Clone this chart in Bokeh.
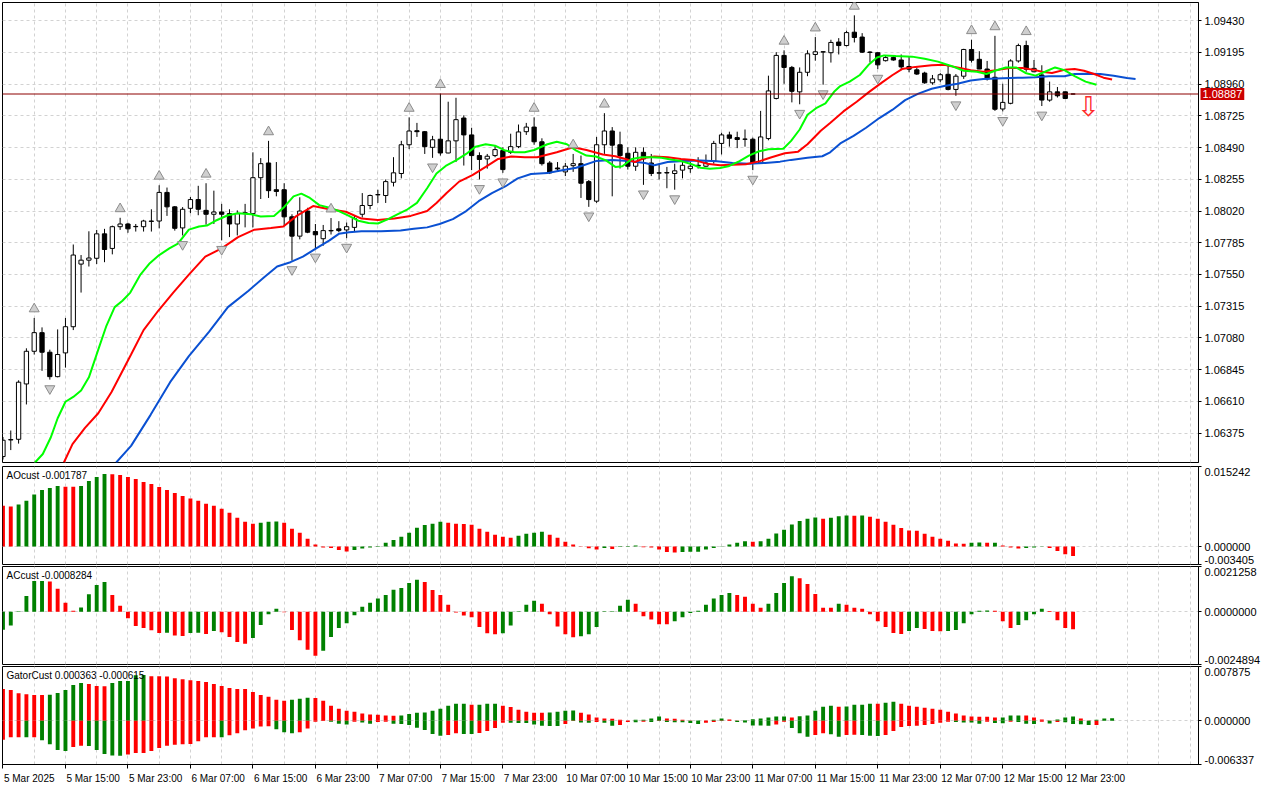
from bokeh.plotting import figure
from bokeh.layouts import column
from bokeh.models import Range1d, FixedTicker, PrintfTickFormatter, Span, Label
from bokeh.core.properties import value
from bokeh.embed import file_html
from bokeh.resources import INLINE

# ---------------- data (EURUSD H1) ----------------
open_ = [1.06201, 1.06324, 1.06329, 1.06739, 1.06981, 1.07119, 1.06974, 1.06793, 1.06969, 1.07163,
         1.07627, 1.07656, 1.07670, 1.07851, 1.07743, 1.07904, 1.07924, 1.07904, 1.07904, 1.07943,
         1.07946, 1.08158, 1.08051, 1.07895, 1.08040, 1.08105, 1.08025, 1.07996, 1.08013, 1.08001,
         1.07924, 1.08001, 1.08001, 1.08267, 1.08376, 1.08178, 1.08178, 1.07977, 1.07834, 1.08020,
         1.07868, 1.07815, 1.07873, 1.07888, 1.07880, 1.07899, 1.07996, 1.08061, 1.08140, 1.08135,
         1.08233, 1.08298, 1.08511, 1.08615, 1.08608, 1.08492, 1.08552, 1.08450, 1.08540, 1.08709,
         1.08584, 1.08431, 1.08406, 1.08431, 1.08468, 1.08455, 1.08497, 1.08608, 1.08642, 1.08533,
         1.08376, 1.08339, 1.08310, 1.08356, 1.08371, 1.08238, 1.08093, 1.08511, 1.08613, 1.08511,
         1.08448, 1.08352, 1.08455, 1.08376, 1.08303, 1.08305, 1.08298, 1.08323, 1.08334, 1.08359,
         1.08352, 1.08390, 1.08521, 1.08584, 1.08564, 1.08553, 1.08552, 1.08376, 1.08557, 1.08854,
         1.09173, 1.09084, 1.08903, 1.09048, 1.09180, 1.09200, 1.09193, 1.09272, 1.09246, 1.09345,
         1.09309, 1.09198, 1.09193, 1.09134, 1.09157, 1.09139, 1.09091, 1.09066, 1.09042, 1.08970,
         1.08992, 1.09033, 1.08921, 1.09019, 1.09217, 1.09144, 1.09072, 1.09011, 1.08776, 1.08818,
         1.09132, 1.09246, 1.09052, 1.09028, 1.08842, 1.08903, 1.08903, 1.08887]
high_ = [1.06346, 1.06394, 1.06766, 1.07003, 1.07228, 1.07158, 1.06993, 1.07143, 1.07228, 1.07772,
         1.07694, 1.07870, 1.07880, 1.07888, 1.07912, 1.07970, 1.07933, 1.07924, 1.07955, 1.08033,
         1.08211, 1.08194, 1.08057, 1.08049, 1.08124, 1.08207, 1.08226, 1.08171, 1.08073, 1.08033,
         1.08025, 1.08073, 1.08455, 1.08412, 1.08540, 1.08383, 1.08226, 1.07996, 1.08122, 1.08044,
         1.07924, 1.07917, 1.07968, 1.07945, 1.07935, 1.07989, 1.08153, 1.08142, 1.08178, 1.08254,
         1.08419, 1.08540, 1.08714, 1.08673, 1.08613, 1.08577, 1.08890, 1.08830, 1.08859, 1.08729,
         1.08637, 1.08455, 1.08443, 1.08504, 1.08492, 1.08593, 1.08661, 1.08673, 1.08714, 1.08559,
         1.08390, 1.08383, 1.08376, 1.08443, 1.08431, 1.08250, 1.08569, 1.08745, 1.08642, 1.08608,
         1.08492, 1.08492, 1.08492, 1.08443, 1.08371, 1.08347, 1.08371, 1.08395, 1.08383, 1.08419,
         1.08439, 1.08540, 1.08600, 1.08608, 1.08608, 1.08624, 1.08564, 1.08762, 1.09023, 1.09197,
         1.09211, 1.09095, 1.09084, 1.09211, 1.09309, 1.09204, 1.09289, 1.09301, 1.09356, 1.09470,
         1.09338, 1.09204, 1.09197, 1.09175, 1.09168, 1.09180, 1.09165, 1.09084, 1.09052, 1.09028,
         1.09042, 1.09108, 1.09035, 1.09222, 1.09289, 1.09204, 1.09132, 1.09318, 1.08963, 1.09144,
         1.09260, 1.09282, 1.09139, 1.09100, 1.08979, 1.08939, 1.08906, 1.08889]
low_ = [1.06179, 1.06249, 1.06297, 1.06587, 1.06957, 1.06836, 1.06771, 1.06788, 1.06860, 1.07138,
        1.07416, 1.07609, 1.07627, 1.07641, 1.07699, 1.07880, 1.07859, 1.07868, 1.07868, 1.07868,
        1.07892, 1.07984, 1.07875, 1.07839, 1.08004, 1.07989, 1.07919, 1.07924, 1.07803, 1.07827,
        1.07839, 1.07899, 1.07899, 1.08109, 1.08117, 1.08129, 1.07912, 1.07653, 1.07810, 1.07856,
        1.07746, 1.07763, 1.07846, 1.07863, 1.07819, 1.07868, 1.07972, 1.08033, 1.08080, 1.08080,
        1.08202, 1.08262, 1.08479, 1.08569, 1.08443, 1.08414, 1.08431, 1.08448, 1.08383, 1.08357,
        1.08323, 1.08254, 1.08334, 1.08419, 1.08303, 1.08443, 1.08486, 1.08584, 1.08511, 1.08357,
        1.08294, 1.08310, 1.08279, 1.08310, 1.08117, 1.08051, 1.08080, 1.08443, 1.08129, 1.08335,
        1.08327, 1.08318, 1.08214, 1.08279, 1.08254, 1.08189, 1.08178, 1.08262, 1.08303, 1.08334,
        1.08347, 1.08371, 1.08439, 1.08497, 1.08486, 1.08497, 1.08323, 1.08371, 1.08544, 1.08847,
        1.08963, 1.08825, 1.08811, 1.09019, 1.09134, 1.08956, 1.09120, 1.09180, 1.09240, 1.09269,
        1.09191, 1.09120, 1.09071, 1.09128, 1.09134, 1.09064, 1.09048, 1.09028, 1.08963, 1.08956,
        1.08975, 1.08914, 1.08874, 1.08999, 1.09120, 1.09071, 1.08987, 1.08762, 1.08758, 1.08811,
        1.09120, 1.09052, 1.09048, 1.08798, 1.08830, 1.08861, 1.08849, 1.08885]
close_ = [1.06322, 1.06327, 1.06752, 1.06981, 1.07119, 1.06974, 1.06793, 1.06957, 1.07163, 1.07694,
          1.07656, 1.07672, 1.07851, 1.07735, 1.07904, 1.07924, 1.07888, 1.07906, 1.07946, 1.07946,
          1.08158, 1.08051, 1.07892, 1.08033, 1.08105, 1.08033, 1.07996, 1.08013, 1.07996, 1.07924,
          1.08001, 1.08008, 1.08267, 1.08371, 1.08171, 1.08165, 1.07977, 1.07834, 1.08020, 1.07863,
          1.07844, 1.07875, 1.07876, 1.07875, 1.07904, 1.07965, 1.08061, 1.08135, 1.08142, 1.08238,
          1.08303, 1.08511, 1.08613, 1.08608, 1.08497, 1.08548, 1.08450, 1.08540, 1.08697, 1.08584,
          1.08431, 1.08402, 1.08426, 1.08475, 1.08327, 1.08497, 1.08606, 1.08642, 1.08533, 1.08371,
          1.08303, 1.08332, 1.08352, 1.08371, 1.08226, 1.08105, 1.08511, 1.08613, 1.08508, 1.08431,
          1.08352, 1.08455, 1.08406, 1.08298, 1.08301, 1.08302, 1.08318, 1.08359, 1.08352, 1.08354,
          1.08376, 1.08521, 1.08584, 1.08559, 1.08550, 1.08552, 1.08376, 1.08569, 1.08910, 1.09173,
          1.09084, 1.08907, 1.09048, 1.09185, 1.09200, 1.09198, 1.09269, 1.09246, 1.09342, 1.09306,
          1.09197, 1.09195, 1.09103, 1.09157, 1.09139, 1.09088, 1.09071, 1.09035, 1.08970, 1.08999,
          1.09030, 1.08921, 1.09019, 1.09217, 1.09137, 1.09072, 1.08999, 1.08774, 1.08825, 1.09132,
          1.09246, 1.09071, 1.09077, 1.08842, 1.08903, 1.08874, 1.08854, 1.08887]

bid_price = 1.08887
fractal_up = [4, 15, 20, 26, 34, 42, 52, 56, 68, 73, 77, 100, 104, 109, 124, 127, 131]
fractal_down = [6, 23, 28, 37, 40, 44, 55, 61, 64, 75, 82, 86, 96, 102, 105, 112, 122, 128, 133]
signal_bar = [139]
signal_price = [1.08796]

# Alligator (lines already shifted forward: jaw 8, teeth 5, lips 3 bars)
jaw_x = [14.5, 16.4, 18.9, 21.4, 23.8, 26.4, 28.8, 31.4, 33.4, 35.1, 36.8, 38.4, 40.1, 41.8, 43, 44.3, 45.9,
         48.4, 50.9, 52.6, 54.3, 55.9, 57.6, 59.3, 60.9, 62.6, 64.3, 65.9, 67.6, 69.7, 70.9, 73.4, 75.9, 78,
         80.1, 82.2, 83.4, 85.1, 87.2, 89.3, 91.4, 93.4, 95.5, 97.6, 99.5, 100.9, 103, 104.9, 105.9, 107.2,
         108.9, 110.5, 112.2, 113.9, 115.5, 117.2, 118.9, 120.5, 122.2, 123.9, 125.5, 128, 130.5, 132.2,
         133.9, 135.9, 137.2, 138.9, 140.5, 142.2, 143.9, 145]
jaw_y = [1.06157, 1.06280, 1.06510, 1.06752, 1.06945, 1.07126, 1.07308, 1.07428, 1.07527, 1.07609,
         1.07641, 1.07682, 1.07743, 1.07803, 1.07851, 1.07863, 1.07870, 1.07870, 1.07875, 1.07888,
         1.07899, 1.07924, 1.07960, 1.08020, 1.08093, 1.08153, 1.08202, 1.08262, 1.08294, 1.08301,
         1.08315, 1.08341, 1.08390, 1.08399, 1.08390, 1.08376, 1.08359, 1.08383, 1.08390, 1.08395,
         1.08388, 1.08376, 1.08371, 1.08376, 1.08386, 1.08399, 1.08414, 1.08426, 1.08455, 1.08521,
         1.08577, 1.08637, 1.08709, 1.08771, 1.08842, 1.08890, 1.08926, 1.08946, 1.08963, 1.08987,
         1.08999, 1.09004, 1.09008, 1.09011, 1.09019, 1.09019, 1.09035, 1.09037, 1.09035, 1.09023,
         1.09006, 1.08999]
teeth_x = [7.8, 8.9, 10.5, 12.2, 13.9, 16.4, 18, 19.9, 21.8, 23.8, 25.9, 28, 30.1, 32.2, 34.3, 35.9, 37.6,
           39.7, 41.8, 43.9, 45.9, 48, 50.1, 52.2, 54.3, 55.5, 56.8, 58.4, 60.1, 61.8, 63.4, 65.1, 66.8,
           68.4, 70.9, 73, 74.7, 76.8, 78.4, 79.7, 80.9, 82.2, 83.4, 85.1, 86.8, 88.4, 90.1, 91.8, 93.4,
           95.1, 96.8, 98.4, 100.1, 101.8, 103, 104.7, 105.9, 107.6, 109.3, 110.9, 112.6, 113.9, 115.1,
           116.8, 118.9, 120.5, 122.2, 123.9, 125.5, 127.2, 128.9, 130.5, 132.2, 133, 134.3, 135.9, 137.2,
           138.4, 139.7, 140.9, 142]
teeth_y = [1.06157, 1.06293, 1.06413, 1.06522, 1.06679, 1.06957, 1.07138, 1.07283, 1.07416, 1.07549,
           1.07682, 1.07743, 1.07827, 1.07882, 1.07895, 1.07906, 1.07984, 1.08057, 1.08033, 1.08015,
           1.07964, 1.07953, 1.07964, 1.07984, 1.08020, 1.08080, 1.08153, 1.08238, 1.08286, 1.08347,
           1.08406, 1.08424, 1.08419, 1.08419, 1.08455, 1.08492, 1.08472, 1.08439, 1.08426, 1.08406,
           1.08383, 1.08414, 1.08424, 1.08419, 1.08406, 1.08399, 1.08371, 1.08359, 1.08363, 1.08366,
           1.08388, 1.08419, 1.08448, 1.08460, 1.08515, 1.08615, 1.08673, 1.08758, 1.08830, 1.08903,
           1.08975, 1.09028, 1.09072, 1.09088, 1.09100, 1.09103, 1.09084, 1.09064, 1.09052, 1.09064,
           1.09079, 1.09079, 1.09064, 1.09052, 1.09043, 1.09066, 1.09072, 1.09059, 1.09035, 1.09008,
           1.08994]
lips_x = [4.1, 5.1, 6.1, 7, 8, 9, 10, 11, 12.2, 13.2, 14.3, 15.3, 16.3, 17.6, 18.8, 20, 21.3, 22.4, 23.8,
          25.1, 26.1, 27.2, 28.8, 30.1, 31.8, 33, 34.7, 35.9, 37.2, 38.2, 39.3, 40.5, 41.8, 43, 44.3, 45.5,
          46.8, 48, 49.3, 50.5, 51.8, 53, 54.3, 55.5, 56.8, 58, 59.3, 60.5, 61.8, 63, 64.3, 65.5, 66.8, 68,
          69.7, 70.9, 72.2, 73.4, 74.7, 75.9, 77.2, 78.4, 79.3, 80.5, 81.8, 83, 84.3, 85.5, 86.8, 88, 89.3,
          90.5, 91.8, 93, 94.3, 95.5, 96.8, 98, 99.9, 100.9, 102, 103, 104.1, 105.3, 106.4, 107.2, 108.4,
          109.7, 110.9, 111.9, 112.8, 114.3, 116.4, 118, 119.7, 121.4, 123, 124.7, 125.9, 127, 128.4,
          129.7, 130.9, 132.2, 133.4, 134.7, 135.9, 137.2, 138.6, 140]
lips_y = [1.06157, 1.06220, 1.06340, 1.06485, 1.06607, 1.06643, 1.06691, 1.06788, 1.06993, 1.07163,
          1.07308, 1.07355, 1.07416, 1.07549, 1.07634, 1.07694, 1.07743, 1.07779, 1.07882, 1.07906,
          1.07912, 1.07948, 1.07989, 1.08004, 1.07996, 1.07979, 1.07984, 1.08044, 1.08129, 1.08149,
          1.08117, 1.08064, 1.08044, 1.08020, 1.07984, 1.07948, 1.07931, 1.07928, 1.07960, 1.07996,
          1.08033, 1.08080, 1.08189, 1.08298, 1.08359, 1.08395, 1.08443, 1.08497, 1.08515, 1.08504,
          1.08468, 1.08455, 1.08455, 1.08472, 1.08515, 1.08533, 1.08515, 1.08468, 1.08431, 1.08424,
          1.08395, 1.08347, 1.08352, 1.08406, 1.08419, 1.08419, 1.08414, 1.08402, 1.08390, 1.08371,
          1.08341, 1.08334, 1.08339, 1.08354, 1.08390, 1.08431, 1.08463, 1.08477, 1.08481, 1.08540,
          1.08624, 1.08733, 1.08782, 1.08818, 1.08903, 1.08946, 1.08979, 1.09028, 1.09108, 1.09157,
          1.09173, 1.09168, 1.09164, 1.09149, 1.09127, 1.09095, 1.09059, 1.09052, 1.09035, 1.09059,
          1.09084, 1.09084, 1.09043, 1.09023, 1.09052, 1.09084, 1.09064, 1.09019, 1.08979, 1.08956]

# Awesome Oscillator
ao = [0.007757, 0.007625, 0.008003, 0.008703, 0.009895, 0.010784, 0.011163, 0.011541, 0.011409, 0.011390,
      0.011541, 0.012487, 0.013244, 0.013812, 0.013774, 0.013622, 0.013244, 0.012866, 0.012298, 0.011920,
      0.011352, 0.010784, 0.010217, 0.009649, 0.009138, 0.008703, 0.008136, 0.007757, 0.007190, 0.006433,
      0.005487, 0.004730, 0.004352, 0.004541, 0.004730, 0.004768, 0.004541, 0.003406, 0.002649, 0.001514,
      0.000378, -0.000189, -0.000246, -0.000624, -0.000946, -0.000624, -0.000378, -0.000189, -0.000057, 0.000757,
      0.001268, 0.001892, 0.002649, 0.003595, 0.004106, 0.004352, 0.004730, 0.004541, 0.004352, 0.004314,
      0.004162, 0.003406, 0.002838, 0.002270, 0.001892, 0.001703, 0.002081, 0.002460, 0.002649, 0.002838,
      0.002270, 0.001703, 0.000946, 0.000378, 0.000057, -0.000322, -0.000568, -0.000246, -0.000435, -0.000057,
      0.000132, 0.000189, -0.000132, -0.000189, -0.000568, -0.001003, -0.001135, -0.001003, -0.000984, -0.000965,
      -0.000568, -0.000246, 0.000057, 0.000378, 0.000757, 0.001003, 0.000946, 0.001041, 0.001514, 0.002516,
      0.003216, 0.004219, 0.004862, 0.005298, 0.005544, 0.005298, 0.005487, 0.005771, 0.005922, 0.005884,
      0.005922, 0.005676, 0.005298, 0.004730, 0.004162, 0.003538, 0.003084, 0.003027, 0.002460, 0.001892,
      0.001514, 0.001135, 0.000568, 0.000530, 0.000757, 0.000776, 0.000738, 0.000757, 0.000189, -0.000189,
      -0.000378, -0.000246, -0.000189, -0.000038, -0.000246, -0.000814, -0.001457, -0.001787]
ao_colors = ("rrggggggrr" "ggggrrrrrr" "rrrrrrrrrr" "rrrgggrrrr" "rrrrrggggg" "gggggggrrr" "rrrrrrgggg"
             "rrrrrrrgrg" "ggrrrrrggg" "ggggggrggg" "gggggrgggr" "grrrrrrrrr" "rrrrggrgrr" "rgggrrrr")

# Accelerator Oscillator
ac = [-0.000849, -0.000649, 0.000014, 0.000742, 0.001438, 0.001447, 0.001424, 0.001081, 0.000417, 0.000046,
      0.000199, 0.000821, 0.001252, 0.001391, 0.000788, 0.000278, -0.000311, -0.000682, -0.000775, -0.000881,
      -0.001006, -0.000997, -0.001127, -0.001146, -0.001006, -0.000997, -0.001053, -0.000914, -0.000974, -0.001192,
      -0.001424, -0.001517, -0.001238, -0.000635, -0.000125, 0.000139, -0.000023, -0.000867, -0.001345, -0.001795,
      -0.002073, -0.001841, -0.001192, -0.000775, -0.000543, -0.000172, 0.000232, 0.000417, 0.000617, 0.000788,
      0.001034, 0.001113, 0.001345, 0.001498, 0.001391, 0.001020, 0.000788, 0.000325, -0.000046, -0.000186,
      -0.000264, -0.000728, -0.001020, -0.001067, -0.001020, -0.000649, 0.000014, 0.000325, 0.000510, 0.000371,
      -0.000125, -0.000696, -0.001067, -0.001206, -0.001160, -0.001067, -0.000728, 0.000014, 0.000019, 0.000278,
      0.000557, 0.000371, -0.000218, -0.000371, -0.000589, -0.000594, -0.000450, -0.000264, -0.000060, 0.000046,
      0.000325, 0.000617, 0.000788, 0.000881, 0.000788, 0.000696, 0.000371, 0.000186, 0.000371, 0.000881,
      0.001345, 0.001670, 0.001577, 0.001299, 0.000835, 0.000186, 0.000181, 0.000371, 0.000325, 0.000186,
      0.000139, -0.000125, -0.000450, -0.000728, -0.001006, -0.001053, -0.000914, -0.000775, -0.000821, -0.000914,
      -0.000918, -0.000909, -0.000867, -0.000543, -0.000125, 0.000046, 0.000051, 0.000037, -0.000450, -0.000775,
      -0.000635, -0.000404, -0.000125, 0.000139, 0.000032, -0.000404, -0.000775, -0.0008284]
ac_colors = ("ggggggrrrr" "ggggrrrrrr" "rgrrggrgrr" "rrggggrrrr" "rggggggggg" "ggggrrrrrr" "rrrrgggggr"
             "rrrrgggggg" "grrrrrgggg" "ggggrrrrgg" "ggrrrrrgrr" "rrrrrrggrr" "rggggggrrr" "ggggrrrr")

# Gator Oscillator (upper = |jaw-teeth|, lower = |teeth-lips|)
gator_up = [0.004613, 0.004471, 0.003999, 0.003856, 0.003756, 0.003742, 0.003771, 0.004042, 0.004471, 0.005185,
            0.005470, 0.005328, 0.005042, 0.005028, 0.005470, 0.005756, 0.005770, 0.006613, 0.006627, 0.006470,
            0.006456, 0.006442, 0.006185, 0.006042, 0.005899, 0.005756, 0.005613, 0.005328, 0.005042, 0.004756,
            0.004613, 0.004599, 0.004185, 0.003756, 0.003471, 0.003042, 0.002899, 0.003042, 0.003185, 0.003328,
            0.003314, 0.002899, 0.002185, 0.001757, 0.001471, 0.001328, 0.001043, 0.000900, 0.000886, 0.000757,
            0.000743, 0.000757, 0.001000, 0.001185, 0.001193, 0.001471, 0.001757, 0.002185, 0.002471, 0.002485,
            0.002328, 0.002342, 0.002471, 0.002485, 0.002185, 0.002000, 0.001614, 0.001328, 0.001185, 0.001171,
            0.001200, 0.001328, 0.001471, 0.001485, 0.001185, 0.000900, 0.000471, 0.000329, 0.000314, 0.000143,
            0.000043, 0.000143, 0.000157, 0.000329, 0.000614, 0.000329, 0.000314, 0.000143, 0.000029, 0.000043,
            0.000029, 0.000143, 0.000329, 0.000186, 0.000043, 0.000071, 0.000243, 0.000329, 0.000471, 0.000614,
            0.000628, 0.000471, 0.000643, 0.000757, 0.001471, 0.002042, 0.002185, 0.002042, 0.002057, 0.002328,
            0.002342, 0.002471, 0.002457, 0.002614, 0.002757, 0.002471, 0.002185, 0.002042, 0.001900, 0.001757,
            0.001614, 0.001328, 0.001043, 0.000757, 0.000614, 0.000600, 0.000586, 0.000471, 0.000486, 0.000757,
            0.000771, 0.000757, 0.000471, 0.000186, 0.000029, 0.000186, 0.000471, 0.000614, 0.000329, 0.000043,
            0.000143, 0.000329, 0.000363]
gator_up_colors = ("rrrrrrgggg" "grrrgggggr" "rrrrrrrrrr" "rrrrrrrggg" "rrrrrrrrrr" "rggggggggg" "rgggrrrrrr"
                   "ggggrrrrrr" "rggggrrrrg" "rggrrggggg" "grgggggrgg" "ggrggrrrrr" "rrrrrrrrgg" "grrrrgggrr"
                   "ggg")
gator_dn = [0.002757, 0.002385, 0.002371, 0.002385, 0.002371, 0.002814, 0.003385, 0.004242, 0.004385, 0.003814,
            0.003614, 0.003642, 0.004242, 0.004813, 0.005042, 0.005056, 0.004899, 0.004671, 0.004656, 0.004385,
            0.003956, 0.003614, 0.003471, 0.003385, 0.003371, 0.002957, 0.002385, 0.002371, 0.002385, 0.002100,
            0.001814, 0.001385, 0.001100, 0.000814, 0.000800, 0.001243, 0.001671, 0.001814, 0.001671, 0.001100,
            0.000143, 0.000043, 0.000143, 0.000428, 0.000528, 0.000143, 0.000243, 0.000428, 0.000186, 0.000143,
            0.000428, 0.000471, 0.000614, 0.001000, 0.001328, 0.001900, 0.002185, 0.002042, 0.001814, 0.001900,
            0.001914, 0.001757, 0.001471, 0.001043, 0.000286, 0.000300, 0.000314, 0.000329, 0.000528, 0.000714,
            0.000757, 0.000771, 0.000471, 0.000043, 0.000243, 0.000286, 0.000186, 0.000286, 0.000714, 0.000614,
            0.000186, 0.000200, 0.000143, 0.000186, 0.000043, 0.000186, 0.000200, 0.000214, 0.000329, 0.000471,
            0.000286, 0.000186, 0.000043, 0.000029, 0.000186, 0.000243, 0.000671, 0.000686, 0.000700, 0.000528,
            0.000143, 0.001043, 0.001814, 0.002328, 0.002042, 0.001814, 0.001957, 0.002328, 0.002042, 0.002028,
            0.002042, 0.002185, 0.002200, 0.002042, 0.001471, 0.000900, 0.000757, 0.000714, 0.000614, 0.000471,
            0.000286, 0.000143, 0.000157, 0.000243, 0.000257, 0.000428, 0.000143, 0.000329, 0.000343, 0.000143,
            0.000157, 0.000428, 0.000471, 0.000143, 0.000386, 0.000186, 0.000200, 0.000471, 0.000486, 0.000614,
            0.000615]
gator_dn_colors = ("rrrgrggggr" "rgggggrrrr" "rrrrrrrrgr" "rrrrrgggrr" "rrgggrggrr" "gggggggrrg" "grrrrggggg"
                   "ggrrggrggr" "rgrgrggggg" "rrrrgggggr" "rgggrrggrr" "gggrrrrrrr" "rrggggrggr" "gggrgrgggg"
                   "r")

price_ticks = [1.06375, 1.06610, 1.06845, 1.07080, 1.07315, 1.07550, 1.07785, 1.08020, 1.08255, 1.08490,
               1.08725, 1.08960, 1.09195, 1.09430]
price_range = (1.06157, 1.09565)
ao_range = (-0.003405, 0.015242)
ac_range = (-0.0024894, 0.0021258)
gator_range = (-0.006337, 0.007875)
time_tick_bars = [0, 8, 16, 24, 32, 40, 48, 56, 64, 72, 80, 88, 96, 104, 112, 120, 128, 136]
time_tick_labels = ["5 Mar 2025", "5 Mar 15:00", "5 Mar 23:00", "6 Mar 07:00", "6 Mar 15:00", "6 Mar 23:00",
                    "7 Mar 07:00", "7 Mar 15:00", "7 Mar 23:00", "10 Mar 07:00", "10 Mar 15:00", "10 Mar 23:00",
                    "11 Mar 07:00", "11 Mar 15:00", "11 Mar 23:00", "12 Mar 07:00", "12 Mar 15:00", "12 Mar 23:00"]

# ---------------- layout / style ----------------
FONT = "Liberation Sans"
X_START, X_END = -0.06, 153.06
FRAME_W = 1196
BORDER_L, BORDER_R = 2, 62
H_MAIN, H_IND = 460, 98
GRID = "#d2d2d2"
COL = {"g": "#008000", "r": "#ff0000"}

N = len(close_)
bars = list(range(N))
x_range = Range1d(X_START, X_END)
grid_bars = list(range(4, int(X_END) + 1, 4))


def make_fig(frame_h, yr, top, bottom, with_xaxis=False):
    p = figure(frame_width=FRAME_W, frame_height=frame_h, x_range=x_range, y_range=Range1d(*yr),
               output_backend="svg", toolbar_location=None, y_axis_location="right",
               x_axis_location="below" if with_xaxis else None,
               min_border_left=BORDER_L, min_border_right=BORDER_R,
               min_border_top=top, min_border_bottom=bottom,
               background_fill_color="white", border_fill_color="white")
    p.outline_line_color = "black"
    p.outline_line_alpha = 1.0
    p.outline_line_width = 1
    p.xgrid.ticker = FixedTicker(ticks=grid_bars)
    for g in (p.xgrid, p.ygrid):
        g.grid_line_color = GRID
        g.grid_line_dash = "3 3"
        g.grid_line_width = 1
    ax = p.yaxis[0]
    ax.axis_line_color = "black"
    ax.major_tick_line_color = "black"
    ax.minor_tick_line_color = "black"
    ax.major_tick_out = 3
    ax.major_tick_in = 0
    ax.minor_tick_out = 0
    ax.minor_tick_in = 0
    ax.major_label_standoff = 3
    ax.major_label_text_font = FONT
    ax.major_label_text_font_size = "11px"
    ax.major_label_text_color = "black"
    return p


def add_title(p, yr, text):
    p.add_layout(Label(x=X_START, y=yr[1], x_offset=4, y_offset=-3, text=text, text_baseline="top",
                       text_align="left", text_font=FONT, text_font_size="10px", text_color="black"))


def indicator_axis(p, yr, frame_h, fmt):
    y0, y1 = yr
    off = 5 * (y1 - y0) / frame_h
    t_lo, t_hi = y0 + off, y1 - off
    ax = p.yaxis[0]
    ax.ticker = FixedTicker(ticks=[t_lo, 0.0, t_hi], minor_ticks=[y0, 0.0, y1])
    ax.major_tick_out = 0
    ax.minor_tick_out = 3
    ax.major_label_overrides = {t_lo: fmt % y0, 0.0: fmt % 0.0, t_hi: fmt % y1}
    p.ygrid.ticker = FixedTicker(ticks=[0.0])


# ---------------- main price panel ----------------
pm = make_fig(H_MAIN, price_range, 2, 2)
pm.yaxis[0].ticker = FixedTicker(ticks=price_ticks)
pm.yaxis[0].formatter = PrintfTickFormatter(format="%.5f")

body_top = [max(o, c) for o, c in zip(open_, close_)]
body_bot = [min(o, c) for o, c in zip(open_, close_)]
body_fill = ["white" if c >= o else "black" for o, c in zip(open_, close_)]
pm.segment(x0=bars, y0=low_, x1=bars, y1=high_, line_color="black", line_width=1)
pm.vbar(x=bars, width=0.55, top=body_top, bottom=body_bot, fill_color=body_fill,
        line_color="black", line_width=1)

pm.line(jaw_x, jaw_y, line_color="#0a50d2", line_width=2)
pm.line(teeth_x, teeth_y, line_color="#ff0000", line_width=2)
pm.line(lips_x, lips_y, line_color="#00ff00", line_width=2)

px_price = (price_range[1] - price_range[0]) / H_MAIN
pm.scatter(x=fractal_up, y=[high_[i] + 9 * px_price for i in fractal_up], marker="triangle", size=10,
           fill_color="#cfcfcf", line_color="#8c8c8c", line_width=1)
pm.scatter(x=fractal_down, y=[low_[i] - 9 * px_price for i in fractal_down], marker="inverted_triangle",
           size=10, fill_color="#cfcfcf", line_color="#8c8c8c", line_width=1)

pm.add_layout(Span(location=bid_price, dimension="width", line_color="#8c0000", line_width=1))
pm.text(x=signal_bar, y=signal_price, text=["\u21e9"], text_color="#ff2a2a", text_font_size="27px",
        text_align="center", text_baseline="middle", text_font=value("DejaVu Sans"))
# current price tag, drawn in the right-hand price-scale panel
pm.add_layout(Label(x=X_END, y=bid_price, x_offset=2, text="%.5f" % bid_price, text_baseline="middle",
                    text_align="left", text_font=FONT, text_font_size="11px", text_color="white",
                    background_fill_color="#cc0000", background_fill_alpha=1.0, padding=2), "right")

# ---------------- AO panel ----------------
pao = make_fig(H_IND, ao_range, 2, 1)
indicator_axis(pao, ao_range, H_IND, "%.6f")
pao.vbar(x=list(range(len(ao))), width=0.5, top=ao, bottom=0,
         fill_color=[COL[c] for c in ao_colors], line_color=None)
add_title(pao, ao_range, "AOcust %.6f" % ao[-1])

# ---------------- AC panel ----------------
pac = make_fig(H_IND, ac_range, 1, 1)
indicator_axis(pac, ac_range, H_IND, "%.7f")
pac.vbar(x=list(range(len(ac))), width=0.5, top=ac, bottom=0,
         fill_color=[COL[c] for c in ac_colors], line_color=None)
add_title(pac, ac_range, "ACcust %.7f" % ac[-1])

# ---------------- Gator panel ----------------
pg = make_fig(H_IND, gator_range, 1, 0, with_xaxis=True)
indicator_axis(pg, gator_range, H_IND, "%.6f")
pg.vbar(x=list(range(len(gator_up))), width=0.5, top=gator_up, bottom=0,
        fill_color=[COL[c] for c in gator_up_colors], line_color=None)
pg.vbar(x=list(range(len(gator_dn))), width=0.5, top=0, bottom=[-v for v in gator_dn],
        fill_color=[COL[c] for c in gator_dn_colors], line_color=None)
add_title(pg, gator_range, "GatorCust %.6f %.6f" % (gator_up[-1], -gator_dn[-1]))

# time axis: ticks at the bars, labels start at the tick (MetaTrader style)
EM = {"M": 0.833, " ": 0.278, ":": 0.278, "a": 0.556, "r": 0.333, ".": 0.278}
LBL_PX = 10
px_per_bar = FRAME_W / (X_END - X_START)
centers = [round(b + (sum(EM.get(ch, 0.556) for ch in s) * LBL_PX / 2 + 1) / px_per_bar, 4)
           for b, s in zip(time_tick_bars, time_tick_labels)]
xa = pg.xaxis[0]
xa.ticker = FixedTicker(ticks=centers, minor_ticks=time_tick_bars)
xa.major_label_overrides = dict(zip(centers, time_tick_labels))
xa.axis_line_color = "black"
xa.major_tick_out = 0
xa.major_tick_in = 0
xa.minor_tick_out = 4
xa.minor_tick_in = 0
xa.minor_tick_line_color = "black"
xa.major_label_standoff = 4
xa.major_label_text_font = FONT
xa.major_label_text_font_size = "10px"
xa.major_label_text_color = "black"

layout = column(pm, pao, pac, pg, spacing=0)
open("out.html", "w").write(file_html(layout, INLINE))
